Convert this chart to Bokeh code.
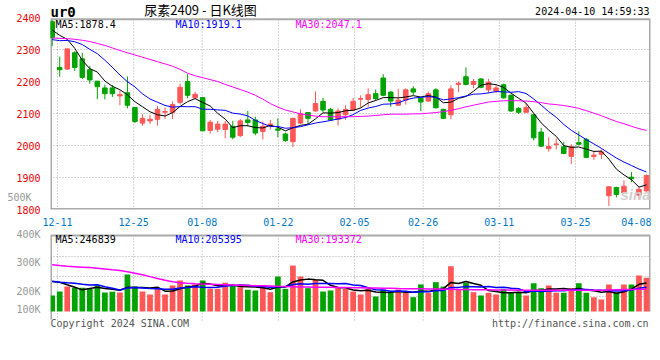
import numpy as np
import pandas as pd
from bokeh.plotting import figure
from bokeh.models import (Range1d, FixedTicker, Label, Grid, LinearAxis, Span,
                          CustomJSTickFormatter)
from bokeh.layouts import column
from bokeh.embed import file_html
from bokeh.resources import INLINE

# ---------------- data (trading days 12-08 .. 04-10) ----------------
date_labels = ["12-11", "12-25", "01-08", "01-22", "02-05", "02-26", "03-11", "03-25", "04-08"]
date_idx = [0, 10, 19, 29, 39, 48, 58, 68, 76]

open_ = [2387, 2244, 2239, 2290, 2271, 2237, 2201, 2180, 2180, 2155,
         2165, 2119, 2070, 2077, 2082, 2104, 2104, 2135, 2200, 2149,
         2150, 2047, 2051, 2050, 2060, 2031, 2080, 2080, 2044, 2063,
         2052, 2036, 2012, 2070, 2103, 2108, 2138, 2113, 2082, 2096,
         2111, 2145, 2144, 2162, 2211, 2167, 2126, 2142, 2177, 2147,
         2139, 2174, 2113, 2096, 2191, 2215, 2191, 2208, 2174, 2170,
         2190, 2157, 2116, 2104, 2096, 2042, 1990, 2003, 1996, 1966,
         2009, 2019, 1966, 1973, 1843, 1869, 1852, 1901, 1845, 1858]
high = [2392, 2278, 2304, 2295, 2290, 2249, 2202, 2190, 2189, 2172,
        2216, 2120, 2098, 2095, 2124, 2119, 2138, 2193, 2223, 2168,
        2152, 2080, 2077, 2077, 2077, 2083, 2108, 2090, 2075, 2080,
        2085, 2040, 2087, 2113, 2105, 2169, 2149, 2118, 2116, 2126,
        2149, 2157, 2179, 2175, 2223, 2170, 2177, 2179, 2185, 2149,
        2169, 2179, 2115, 2188, 2200, 2244, 2208, 2210, 2208, 2188,
        2193, 2160, 2120, 2131, 2098, 2055, 2026, 2022, 2012, 2004,
        2044, 2024, 1983, 1988, 1873, 1871, 1891, 1917, 1871, 1909]
low = [2311, 2215, 2236, 2233, 2208, 2193, 2145, 2144, 2152, 2126,
       2116, 2070, 2062, 2067, 2062, 2083, 2083, 2128, 2148, 2145,
       2045, 2037, 2042, 2022, 2019, 2026, 2060, 2032, 2019, 2050,
       2026, 2012, 1995, 2067, 2067, 2106, 2104, 2077, 2062, 2080,
       2108, 2118, 2121, 2141, 2154, 2121, 2124, 2128, 2157, 2108,
       2136, 2116, 2083, 2082, 2167, 2188, 2179, 2179, 2164, 2164,
       2147, 2105, 2099, 2102, 2016, 1996, 1981, 1988, 1973, 1942,
       2001, 1960, 1955, 1958, 1811, 1838, 1850, 1886, 1830, 1856]
close = [2337, 2237, 2302, 2244, 2213, 2205, 2184, 2162, 2162, 2159,
         2126, 2075, 2085, 2082, 2113, 2106, 2128, 2182, 2157, 2160,
         2046, 2073, 2067, 2067, 2026, 2077, 2072, 2039, 2060, 2067,
         2048, 2016, 2085, 2099, 2085, 2131, 2111, 2080, 2108, 2113,
         2138, 2147, 2159, 2147, 2157, 2139, 2142, 2174, 2167, 2136,
         2162, 2118, 2085, 2177, 2195, 2191, 2200, 2182, 2198, 2180,
         2149, 2108, 2104, 2119, 2024, 1998, 1997, 2005, 1975, 1996,
         2004, 1963, 1970, 1980, 1871, 1847, 1873, 1896, 1863, 1906]
# closes of the sessions before the first visible day (estimated from the MA lines)
pre_close = [2270, 2295, 2285, 2300, 2355, 2320, 2365, 2385, 2398]
ma30 = [2336, 2335, 2334, 2332, 2329, 2325, 2319, 2313, 2305, 2297,
        2290, 2283, 2276, 2269, 2262, 2255, 2248, 2238, 2226, 2218,
        2212, 2206, 2200, 2191, 2183, 2175, 2167, 2157, 2145, 2131,
        2120, 2111, 2105, 2099, 2095, 2092, 2090, 2090, 2090, 2090,
        2090, 2091, 2092, 2094, 2096, 2098, 2098, 2098, 2099, 2099,
        2101, 2103, 2106, 2110, 2115, 2121, 2126, 2131, 2136, 2138,
        2140, 2140, 2140, 2139, 2137, 2134, 2130, 2128, 2125, 2121,
        2116, 2109, 2101, 2093, 2084, 2075, 2068, 2060, 2053, 2047]

# volume, thousands of lots
volume = [139, 173, 216, 205, 205, 196, 225, 165, 170, 165,
          320, 216, 173, 147, 196, 147, 225, 268, 225, 234,
          268, 196, 196, 248, 234, 210, 188, 182, 216, 167,
          303, 196, 398, 303, 202, 274, 173, 182, 205, 196,
          173, 147, 196, 130, 188, 167, 190, 162, 124, 234,
          162, 254, 216, 392, 188, 248, 167, 139, 162, 147,
          196, 167, 162, 139, 245, 202, 225, 162, 162, 202,
          245, 162, 124, 104, 234, 162, 234, 234, 312, 292]
pre_volume = [250, 270, 255, 285, 260, 203, 331, 310, 317]
vol_ma30 = [405, 398, 392, 388, 384, 380, 374, 368, 361, 355,
            345, 332, 318, 302, 286, 270, 258, 250, 245, 241,
            238, 236, 234, 232, 230, 228, 226, 224, 222, 220,
            218, 217, 215, 213, 212, 211, 210, 209, 208, 207,
            206, 205, 204, 203, 202, 201, 199, 198, 197, 196,
            195, 194, 193, 192, 191, 190, 189, 188, 188, 187,
            186, 186, 185, 185, 184, 184, 184, 183, 183, 183,
            183, 183, 184, 185, 187, 189, 190, 191, 192, 193]

price_ticks = [1800, 1900, 2000, 2100, 2200, 2300, 2400]
vol_tick_labels = ["100K", "200K", "300K", "400K"]
header_price = ["MA5:1878.4", "MA10:1919.1", "MA30:2047.1"]
header_volume = ["MA5:246839", "MA10:205395", "MA30:193372"]
title_text = "尿素2409 - 日K线图"
symbol_text = "ur0"
time_text = "2024-04-10 14:59:33"
copyright_text = "Copyright 2024 SINA.COM"
url_text = "http://finance.sina.com.cn"

# ---------------- derived ----------------
n = len(close)
x = np.arange(n) - 1
o = np.array(open_); c = np.array(close)
up = c >= o
RED, GREEN = "#ff5656", "#00a300"
colors = [RED if u else GREEN for u in up]
cs = pd.Series(pre_close + close)
ma5 = cs.rolling(5).mean().values[len(pre_close):]
ma10 = cs.rolling(10).mean().values[len(pre_close):]
vs = pd.Series(pre_volume + volume)
vma5 = vs.rolling(5).mean().values[len(pre_volume):]
vma10 = vs.rolling(10).mean().values[len(pre_volume):]

MONO = "DejaVu Sans Mono"
GRID_C = "#aaaaaa"
BOX_C = "#aaaaaa"
MA_COLORS = ["#000000", "#0000ff", "#ff00ff"]

x_range = Range1d(-1.226, 78.53)
X0, X1 = x_range.start, x_range.end
# date gridlines follow Sina's slightly wider day spacing
date_pos = [round(i * 1.0126 - 0.30, 3) for i in date_idx]

# ---------------- price panel (frame spans canvas top .. y=213) ----------------
PX = 595.0 / 194.0          # price units per pixel
P_BOT, P_TOP = 1800, 2395   # price at the panel box bottom / top
p = figure(width=660, height=228, x_range=x_range,
           y_range=Range1d(P_BOT, P_TOP + 19 * PX),
           output_backend="svg", toolbar_location=None,
           min_border_left=50, min_border_right=10, min_border_top=0, min_border_bottom=15)
p.grid.visible = False
p.outline_line_color = None
p.background_fill_color = "white"
p.border_fill_color = "white"
p.add_layout(Grid(dimension=1, ticker=FixedTicker(ticks=price_ticks[1:-1]),
                  grid_line_color=GRID_C, grid_line_dash="1 2"), "center")
p.segment(x0=date_pos[:-1], y0=P_BOT, x1=date_pos[:-1], y1=P_TOP,
          line_color=GRID_C, line_dash="1 2", line_width=1)

ya = p.yaxis[0]
ya.ticker = FixedTicker(ticks=price_ticks)
ya.axis_line_color = None
ya.major_tick_line_color = None
ya.minor_tick_line_color = None
ya.major_label_standoff = 4
ya.major_label_text_font = MONO
ya.major_label_text_font_size = "10px"
ya.major_label_text_color = "#ee0000"

# Sina prints the volume scale's top label into the price panel
v500 = P_BOT + 12 * PX
ya2 = LinearAxis(ticker=FixedTicker(ticks=[round(v500, 1)]),
                 major_label_overrides={round(v500, 1): "500K"},
                 axis_line_color=None, major_tick_line_color=None,
                 minor_tick_line_color=None, major_label_standoff=-24,
                 major_label_text_font=MONO, major_label_text_font_size="10px",
                 major_label_text_color="#999999")
p.add_layout(ya2, "left")

xa = p.xaxis[0]
xa.ticker = FixedTicker(ticks=date_pos)
xa.formatter = CustomJSTickFormatter(args=dict(pos=date_pos, labs=date_labels), code="""
let best = 0, bd = 1e9;
for (let i = 0; i < pos.length; i++) { const d = Math.abs(pos[i] - tick); if (d < bd) { bd = d; best = i; } }
return labs[best];
""")
xa.axis_line_color = None
xa.major_tick_line_color = None
xa.minor_tick_line_color = None
xa.major_label_standoff = 2
xa.major_label_text_font = MONO
xa.major_label_text_font_size = "10px"
xa.major_label_text_color = "#0078c8"

# panel box
p.add_layout(Span(location=P_TOP, dimension="width", line_color=BOX_C, line_width=2))
p.add_layout(Span(location=P_BOT, dimension="width", line_color=BOX_C, line_width=3))
p.segment(x0=[X0, X1], y0=P_BOT, x1=[X0, X1], y1=P_TOP, line_color=BOX_C, line_width=3)

p.segment(x0=x, y0=low, x1=x, y1=high, color=colors, line_width=1)
p.vbar(x=x, bottom=np.minimum(o, c), top=np.maximum(o, c), width=0.6,
       fill_color=colors, line_color=colors, line_width=1)
for arr, col in zip([ma5, ma10, ma30], MA_COLORS):
    p.line(x, arr, line_color=col, line_width=1)


def lab(fig, text, xa_, ya_, dx, dy, color="#000000", size="10px", font=MONO,
        align="left", style="normal"):
    fig.add_layout(Label(x=xa_, y=ya_, x_offset=dx, y_offset=dy, text=text,
                         text_color=color, text_font_size=size, text_font=font,
                         text_align=align, text_baseline="middle",
                         text_font_style=style))


lab(p, symbol_text, X0, P_TOP, 0, 7.5, size="14px", style="bold")
lab(p, title_text, X0, P_TOP, 150, 9.5, size="13px", font="Noto Sans CJK SC", align="center")
lab(p, time_text, X0, P_TOP, 599, 7.5, align="right")
for t, col, dx in zip(header_price, MA_COLORS, [5, 125, 245]):
    lab(p, t, X0, P_TOP, dx, -5, color=col)
lab(p, "sina", X1, P_BOT, 0, 15, color="#cfcfcf", size="15px",
    font="Liberation Sans", align="right", style="bold italic")

# ---------------- volume panel (frame spans y=228 .. canvas bottom) ----------------
VK = 8.66                    # thousand lots per pixel
V_TOP = (311 - 235) * VK     # value at the panel box top
v = figure(width=660, height=112, x_range=x_range,
           y_range=Range1d(-(340 - 311) * VK, (311 - 228) * VK),
           output_backend="svg", toolbar_location=None, x_axis_location=None,
           min_border_left=50, min_border_right=10, min_border_top=0, min_border_bottom=0)
v.grid.visible = False
v.outline_line_color = None
v.background_fill_color = "white"
v.border_fill_color = "white"
v.add_layout(Grid(dimension=1, ticker=FixedTicker(ticks=[132.5, 305.7, 478.9]),
                  grid_line_color=GRID_C, grid_line_dash="1 2"), "center")
v.segment(x0=date_pos[:-1], y0=-9 * VK, x1=date_pos[:-1], y1=V_TOP,
          line_color=GRID_C, line_dash="1 2", line_width=1)

vtick = [round((311 - yy) * VK, 1) for yy in (309, 291, 262, 234)]
vy = v.yaxis[0]
vy.ticker = FixedTicker(ticks=vtick)
vy.major_label_overrides = dict(zip(vtick, vol_tick_labels))
vy.axis_line_color = None
vy.major_tick_line_color = None
vy.minor_tick_line_color = None
vy.major_label_standoff = 4
vy.major_label_text_font = MONO
vy.major_label_text_font_size = "10px"
vy.major_label_text_color = "#999999"

v.add_layout(Span(location=V_TOP, dimension="width", line_color=BOX_C, line_width=2))
v.segment(x0=[X0, X1], y0=[-8 * VK, 0], x1=[X0, X1], y1=V_TOP, line_color=BOX_C, line_width=3)

v.vbar(x=x, top=volume, bottom=0, width=0.76, fill_color=colors, line_color=None)
for arr, col in zip([vma5, vma10, vol_ma30], MA_COLORS):
    v.line(x, arr, line_color=col, line_width=1.5)

for t, col, dx in zip(header_volume, MA_COLORS, [5, 125, 245]):
    lab(v, t, X0, V_TOP, dx, -4, color=col)
lab(v, copyright_text, X0, 0, 0, -12, color="#555555")
lab(v, url_text, X0, 0, 598, -12, color="#555555", align="right")

layout = column(p, v, spacing=0)
open("out.html", "w").write(file_html(layout, INLINE))
